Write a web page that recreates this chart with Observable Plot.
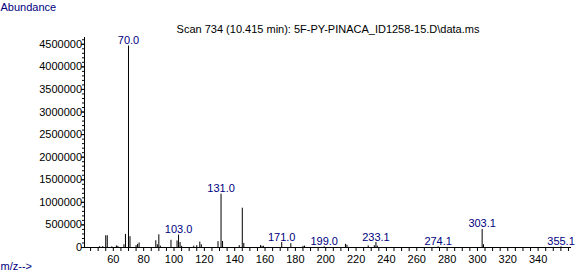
<!DOCTYPE html>
<html>
<head>
<meta charset="utf-8">
<script src="https://cdn.jsdelivr.net/npm/d3@7"></script>
<script src="https://cdn.jsdelivr.net/npm/@observablehq/plot@0.6"></script>
<style>
  html, body { margin: 0; padding: 0; background: #fff; }
  #chart svg { display: block; }
</style>
</head>
<body>
<div id="chart"></div>
<script>
// m/z values and abundances
const mz = [51, 53, 55, 56, 59, 62, 63, 67, 68, 70.0, 71, 75, 76, 77, 88, 89, 90, 91,
            98, 102, 103.0, 104, 105, 113, 115, 117, 118, 129, 131.0, 132, 143, 145, 146,
            157, 158, 159, 171.0, 177, 185, 186, 199.0, 213, 214, 228, 232, 233.1, 234,
            274.1, 303.1, 304, 355.1];
const abundance = [20000, 20000, 260000, 260000, 15000, 35000, 25000, 60000, 290000, 4460000, 240000, 40000, 70000, 100000, 150000, 60000, 280000, 30000,
            160000, 145000, 275000, 110000, 25000, 30000, 40000, 120000, 60000, 130000, 1180000, 133000, 40000, 870000, 90000,
            40000, 30000, 25000, 110000, 85000, 25000, 30000, 15000, 70000, 50000, 35000, 40000, 110000, 30000,
            15000, 400000, 60000, 15000];
const labeledMz = [70.0, 103.0, 131.0, 171.0, 199.0, 233.1, 274.1, 303.1, 355.1];
const yMajorTicks = [0, 500000, 1000000, 1500000, 2000000, 2500000, 3000000, 3500000, 4000000, 4500000];
const xLabelTicks = [60, 80, 100, 120, 140, 160, 180, 200, 220, 240, 260, 280, 300, 320, 340];
const titleText = "Scan 734 (10.415 min): 5F-PY-PINACA_ID1258-15.D\\data.ms";
const yTitle = "Abundance";
const xTitle = "m/z-->";

const peaks = mz.map((m, i) => ({mz: m, ab: abundance[i]}));
const labeled = peaks.filter(d => labeledMz.includes(d.mz));
const xMinorTicks = d3.range(45, 361, 5);
const yMinorTicks = d3.range(0, 4600001, 100000);
const navy = "#000080";
const xDomain = [41, 362];

const chart = Plot.plot({
  width: 585,
  height: 273,
  marginLeft: 84,
  marginRight: 14,
  marginTop: 37,
  marginBottom: 26,
  style: {fontFamily: "'Liberation Sans', Arial, sans-serif", fontSize: "11px", background: "#fff", color: "#000"},
  x: {domain: xDomain, label: null},
  y: {domain: [0, 4650000], label: null},
  marks: [
    Plot.ruleX(peaks, {x: "mz", y1: 0, y2: "ab", stroke: "#000", strokeWidth: 1}),
    Plot.ruleX([xDomain[0]], {stroke: "#000"}),
    Plot.ruleY([0], {stroke: "#000"}),
    Plot.axisY({ticks: yMinorTicks, tickSize: 2, text: null, label: null}),
    Plot.axisY({ticks: yMajorTicks, tickSize: 3, text: null, label: null}),
    Plot.axisY({ticks: yMajorTicks, tickSize: 0, tickPadding: 2.5, tickFormat: d => String(d), label: null, fill: "#000"}),
    Plot.axisX({ticks: xMinorTicks, tickSize: 4, text: null, label: null}),
    Plot.axisX({ticks: xLabelTicks, tickSize: 0, tickPadding: 7.5, tickFormat: d => String(d), label: null, fill: "#000"}),
    Plot.text(labeled, {x: "mz", y: "ab", text: d => d.mz.toFixed(1), lineAnchor: "bottom", dy: -2, fill: navy, fontSize: 11}),
    Plot.text([titleText], {frameAnchor: "top", lineAnchor: "bottom", dy: -4.5, fill: "#000", fontSize: 11}),
    Plot.text([yTitle], {frameAnchor: "top-left", textAnchor: "start", lineAnchor: "bottom", dx: -84, dy: -26.5, fill: navy, fontSize: 11}),
    Plot.text([xTitle], {frameAnchor: "bottom-left", textAnchor: "start", lineAnchor: "bottom", dx: -84, dy: 22, fill: navy, fontSize: 11})
  ]
});
document.getElementById("chart").appendChild(chart);
</script>
</body>
</html>
